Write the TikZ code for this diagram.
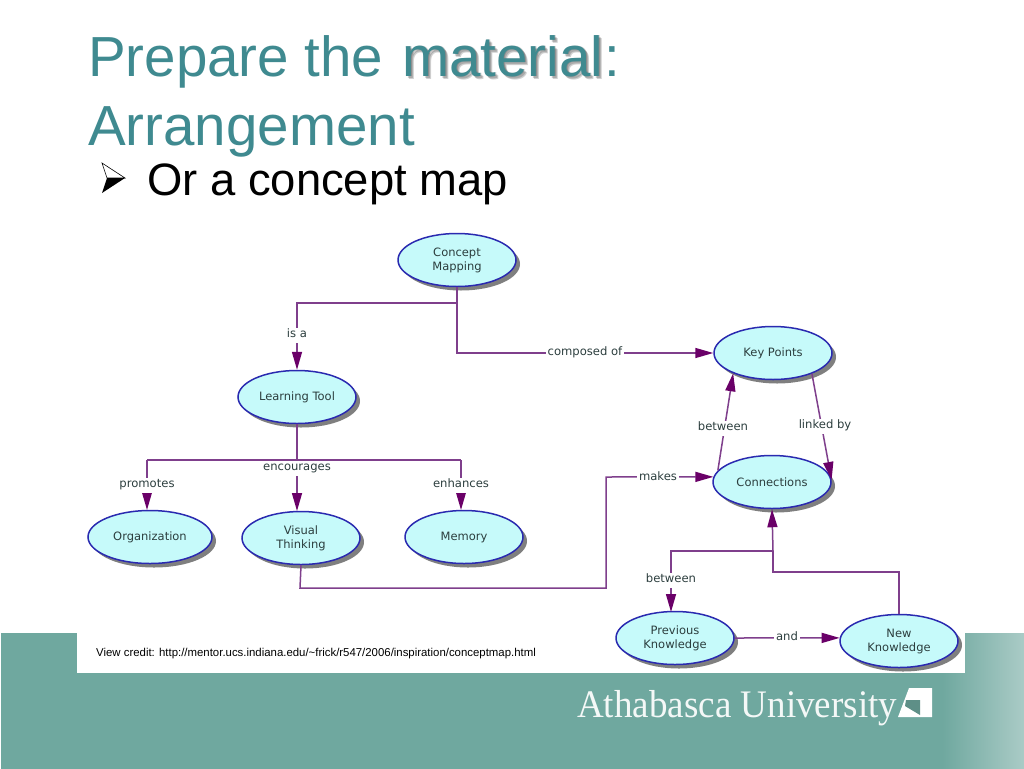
\documentclass[tikz,border=0pt]{standalone}
\usepackage{fontspec}
\setmainfont{Liberation Sans}
\newfontfamily\mapfont{DejaVu Sans}
\newfontfamily\unifont{Liberation Serif}
\usetikzlibrary{arrows.meta,shadows,shapes.geometric}
\definecolor{titlecol}{HTML}{3F8A90}
\definecolor{bandcol}{HTML}{6FA89F}
\definecolor{bandlight}{HTML}{AACBC6}
\definecolor{linkcol}{HTML}{7F3F8C}
\definecolor{tipcol}{HTML}{6A0068}
\definecolor{rimcol}{HTML}{2A2AB0}
\definecolor{bubblecol}{HTML}{C6FAFA}
\definecolor{mapink}{HTML}{2C3E3E}
\pgfdeclarehorizontalshading{bandshade}{100bp}{color(0bp)=(bandcol); color(71bp)=(bandcol); color(75bp)=(bandlight); color(100bp)=(bandlight)}
\tikzset{
    title/.style={anchor=base west, inner sep=0pt, text=titlecol, font=\fontsize{56.5}{56.5}\selectfont},
    bubble/.style={ellipse, draw=rimcol, fill=bubblecol, line width=1.5pt, minimum width=118pt, minimum height=53pt, inner sep=0pt, align=center,
        text=mapink, font=\mapfont\fontsize{11.5}{14}\selectfont,
        drop shadow={shadow xshift=4pt, shadow yshift=-4pt, fill=black, opacity=.5}},
    link/.style={draw=linkcol, line width=1.5pt},
    arrowlink/.style={link, -{Triangle[length=18pt,width=10pt,color=tipcol]}},
    linklabel/.style={fill=white, yshift=-1.5pt, inner xsep=2pt, inner ysep=3pt, text height=6.5pt, text depth=2pt, text=mapink, font=\mapfont\fontsize{11.6}{13}\selectfont},
}
\begin{document}
\begin{tikzpicture}[x=1pt,y=-1pt]
    \useasboundingbox (0,0) rectangle (1024,768);
    \fill[white] (0,0) rectangle (1024,768);
    \shade[shading=bandshade] (1,633) rectangle (1024,768);
    \fill[white] (77,633) rectangle (965,673);

    \node[title] (prepare) at (88,76) {Prepare the};
    \foreach \o in {1,2,3} \node[title, text=black, opacity=.18] (shade\o) at (402+\o,76+\o) {material};
    \node[title] (material) at (402,76) {material};
    \node[title] (colon) at (604,76) {:};
    \node[title] (arrangement) at (88,145) {Arrangement};
    \filldraw[fill=white, draw=black, line width=.6pt] (102,163) -- (125,178) -- (107,178) -- cycle;
    \fill[black] (102,193) -- (125,178) -- (107,178) -- cycle;
    \node[anchor=base west, inner sep=0pt, font=\fontsize{45.4}{46}\selectfont] (ormap) at (147,195) {Or a concept map};

    \foreach \n/\x/\y/\t in {concept/457/260/{Concept\\Mapping}, learning/297/397/{Learning Tool},
        key/773/353/{Key Points}, connections/772/482/{Connections},
        visual/301/538/{Visual\\Thinking}, memory/464/537/{Memory},
        previous/675/638/{Previous\\Knowledge}, new/899/641/{New\\Knowledge}}
        \node[bubble] (\n) at (\x,\y) {\t};
    \node[bubble, minimum width=124pt] (organization) at (150,537) {Organization};

    \coordinate (jconcept) at (457,303);
    \coordinate (jlearning) at (297,460);
    \coordinate (jconn) at (773,551);
    \coordinate (jnew) at (773,572);

    \draw[link] (concept.south) -- (jconcept);
    \draw[arrowlink] (jconcept) -- (297,303) -- (learning.north);
    \draw[arrowlink] (jconcept) |- (key.west);
    \draw[link] (learning.south) -- (jlearning);
    \draw[arrowlink] (147,460) -- (147,510);
    \draw[arrowlink] (jlearning) -- (297,511);
    \draw[arrowlink] (461,460) -- (461,510);
    \draw[arrowlink] (visual.south) -- (300,588) -- (606,588) -- (606,477) -- (connections.175);
    \draw[arrowlink] (connections.168) -- (key.207);
    \draw[arrowlink] (key.-28) -- (connections.2);
    \draw[arrowlink] (jconn) -- (connections.south);
    \draw[arrowlink] (jconn) -- (671,551) -- (671,612);
    \draw[link] (new.north) -- (899,572) -- (jnew) -- (jconn);
    \draw[arrowlink] (previous.east) -- (new.177);

    \foreach \n/\x/\y/\t in {isa/297/334/{is a}, composed/585/352/{composed of}, between/723/427/{between},
        linked/825/425/{linked by}, promotes/147/484/{promotes}, encourages/297/467/{encourages},
        enhances/461/484/{enhances}, makes/658/477/{makes}, betweentwo/671/579/{between}, and/787/637/{and}}
        \node[linklabel] (\n) at (\x,\y) {\t};
    \draw[link] (147,460) -- (461,460);

    \node[anchor=base west, inner sep=0pt, font=\fontsize{11.4}{13}\selectfont] (credit) at (96,656)
        {View credit: http://mentor.ucs.indiana.edu/\string~frick/r547/2006/inspiration/conceptmap.html};
    \node[anchor=base west, inner sep=0pt, xscale=.95, text=white!92!bandcol, font=\unifont\fontsize{39}{39}\selectfont] (athabasca) at (577,717) {Athabasca University};
    \fill[white] (898,717) -- (909,688) -- (932,688) -- (932,717) -- cycle;
    \fill[bandcol!85!black] (906,700) -- (920,700) -- (920,715) -- (905,706) -- cycle;
\end{tikzpicture}
\end{document}
